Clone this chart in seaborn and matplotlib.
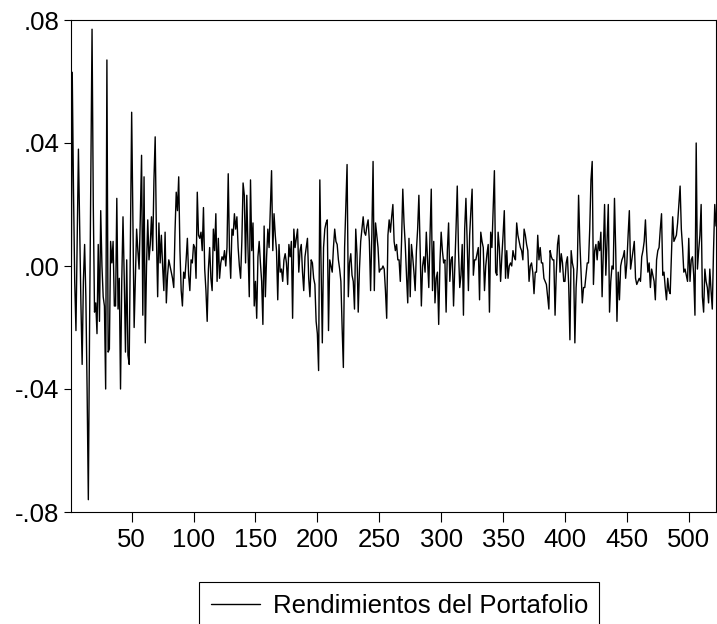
import matplotlib
matplotlib.use("Agg")
import matplotlib.pyplot as plt
import pandas as pd
import seaborn as sns

# Rendimientos diarios (orden de observacion 1..522)
rendimientos = [
    -0.024, 0.063, 0.025, -0.005, -0.021, 0.008, 0.038, 0.012, -0.012, -0.032,
    -0.005, 0.007, -0.010, -0.040, -0.076, -0.020, 0.030, 0.077, 0.020, -0.015,
    -0.012, -0.022, 0.007, -0.018, 0.018, 0.000, -0.010, -0.013, -0.040, 0.067,
    -0.028, -0.027, 0.008, 0.001, 0.008, -0.013, -0.013, 0.022, -0.014, -0.004,
    -0.040, -0.005, 0.016, -0.004, -0.028, 0.002, -0.029, -0.032, 0.010, 0.050,
    0.015, -0.020, -0.004, 0.012, 0.005, -0.001, 0.016, 0.036, -0.016, 0.029,
    -0.025, 0.000, 0.015, 0.002, 0.007, 0.016, 0.005, 0.028, 0.042, 0.010,
    -0.010, 0.014, 0.001, 0.010, 0.000, -0.008, 0.011, -0.012, -0.003, 0.002,
    0.000, -0.002, -0.004, -0.007, 0.011, 0.024, 0.018, 0.029, 0.005, -0.008,
    -0.013, -0.002, -0.004, 0.002, 0.009, -0.003, -0.008, 0.002, 0.001, 0.007,
    0.006, -0.004, 0.024, 0.010, 0.009, 0.011, 0.005, 0.019, -0.001, -0.008,
    -0.018, -0.001, 0.006, -0.004, -0.008, 0.012, 0.005, 0.017, -0.005, 0.009,
    -0.004, 0.001, 0.003, 0.002, 0.005, 0.000, 0.006, 0.030, 0.005, -0.004,
    0.012, 0.010, 0.017, 0.012, 0.016, 0.006, 0.000, -0.004, 0.008, 0.027,
    0.023, 0.001, 0.023, 0.005, -0.010, 0.028, 0.005, 0.014, -0.013, -0.005,
    -0.017, 0.003, 0.008, 0.001, -0.005, -0.019, 0.013, -0.010, 0.003, 0.012,
    0.006, 0.018, 0.031, 0.005, 0.017, 0.010, 0.005, -0.011, 0.007, -0.002,
    -0.001, -0.005, 0.002, 0.004, 0.001, -0.006, 0.007, 0.003, 0.008, -0.017,
    0.012, 0.006, 0.009, 0.012, -0.002, 0.005, 0.007, -0.002, -0.008, 0.003,
    0.006, 0.009, -0.004, -0.010, 0.002, 0.001, -0.004, -0.006, -0.018, -0.022,
    -0.034, 0.028, 0.000, -0.025, 0.006, 0.012, 0.014, 0.015, -0.021, 0.002,
    0.000, -0.002, 0.006, 0.012, 0.008, 0.007, 0.002, -0.001, -0.005, -0.020,
    -0.033, 0.006, 0.020, 0.033, -0.010, 0.001, 0.004, -0.003, -0.005, -0.014,
    0.012, 0.004, -0.015, -0.001, 0.008, 0.012, 0.016, 0.011, 0.010, 0.013,
    0.015, 0.008, -0.008, 0.010, 0.034, -0.008, 0.014, 0.010, 0.006, -0.002,
    -0.001, -0.001, 0.000, -0.001, -0.008, -0.017, 0.010, 0.015, 0.011, 0.016,
    0.020, 0.008, 0.005, 0.007, 0.002, 0.002, -0.005, 0.008, 0.025, 0.014,
    0.007, -0.003, -0.012, 0.009, -0.010, 0.007, 0.003, -0.002, -0.008, 0.005,
    0.012, 0.023, 0.006, -0.013, 0.000, 0.003, -0.002, 0.011, 0.002, -0.007,
    0.010, 0.025, -0.008, 0.008, -0.012, -0.004, -0.002, -0.019, 0.001, 0.011,
    0.005, 0.001, 0.002, -0.015, 0.005, 0.014, -0.005, 0.002, 0.003, -0.013,
    -0.001, 0.012, 0.026, 0.005, -0.007, -0.003, 0.007, -0.016, 0.012, 0.022,
    0.008, -0.008, 0.010, 0.018, 0.025, -0.003, 0.002, 0.002, 0.004, 0.006,
    -0.011, 0.011, 0.008, 0.006, -0.008, 0.000, 0.004, 0.007, -0.015, 0.011,
    0.006, 0.018, 0.031, -0.002, -0.003, 0.011, 0.006, -0.005, 0.003, 0.010,
    0.018, -0.004, 0.005, -0.004, 0.000, 0.001, 0.000, 0.005, 0.003, 0.002,
    0.014, 0.010, 0.008, 0.006, 0.005, 0.002, 0.012, 0.010, 0.007, 0.005,
    -0.005, 0.000, 0.001, -0.002, -0.009, -0.002, -0.002, 0.010, 0.002, 0.006,
    0.001, 0.001, -0.004, -0.005, -0.006, -0.010, -0.014, 0.005, 0.003, 0.002,
    0.002, -0.016, -0.002, 0.007, 0.010, -0.002, 0.004, 0.001, -0.005, -0.005,
    0.001, 0.003, -0.006, -0.024, 0.005, 0.001, -0.001, -0.025, -0.007, 0.000,
    0.023, 0.008, -0.002, -0.012, -0.007, -0.007, -0.003, 0.001, 0.001, 0.012,
    0.028, 0.034, -0.006, 0.005, 0.007, 0.002, 0.008, 0.005, 0.011, -0.010,
    0.005, 0.020, -0.003, 0.008, 0.020, -0.015, -0.005, 0.000, -0.001, 0.022,
    0.005, -0.018, -0.002, -0.011, 0.000, 0.002, 0.003, 0.005, -0.004, 0.001,
    0.010, 0.018, -0.001, 0.002, 0.005, 0.008, -0.004, -0.006, -0.005, -0.004,
    -0.005, 0.003, 0.005, 0.008, 0.015, 0.005, -0.002, 0.001, -0.007, -0.001,
    -0.003, -0.005, -0.011, 0.002, 0.005, 0.006, 0.012, 0.017, -0.003, -0.002,
    -0.007, -0.011, -0.004, -0.008, -0.009, 0.003, 0.016, 0.008, 0.009, 0.010,
    0.014, 0.020, 0.026, 0.012, 0.006, -0.002, -0.001, -0.003, -0.005, 0.009,
    -0.005, 0.002, 0.003, -0.003, -0.016, 0.040, -0.001, 0.005, 0.010, 0.020,
    -0.010, -0.015, -0.001, -0.005, -0.007, -0.012, -0.001, -0.008, -0.014, 0.005,
    0.020, 0.013,
]
observaciones = list(range(1, len(rendimientos) + 1))

serie_nombre = "Rendimientos del Portafolio"
ytick_vals = [-0.08, -0.04, 0.0, 0.04, 0.08]
ytick_labels = ["-.08", "-.04", ".00", ".04", ".08"]
xtick_vals = [50, 100, 150, 200, 250, 300, 350, 400, 450, 500]
xtick_labels = ["50", "100", "150", "200", "250", "300", "350", "400", "450", "500"]

sns.set_style("ticks")
plt.rcParams["font.family"] = ["Liberation Sans", "DejaVu Sans"]

W, H = 717, 624
fig = plt.figure(figsize=(W / 100, H / 100), dpi=100)
ax = fig.add_axes([71 / W, 1 - 512 / H, (716 - 71) / W, (512 - 20) / H])

df = pd.DataFrame({"obs": observaciones, "ret": rendimientos})
sns.lineplot(data=df, x="obs", y="ret", color="black", linewidth=1.0,
             ax=ax, label=serie_nombre, legend=False)

ax.set_xlim(observaciones[0], observaciones[-1])
ax.set_ylim(ytick_vals[0], ytick_vals[-1])
ax.set_xticks(xtick_vals, xtick_labels)
ax.set_yticks(ytick_vals, ytick_labels)
ax.set_xlabel("")
ax.set_ylabel("")

for s in ax.spines.values():
    s.set_visible(True)
    s.set_color("black")
    s.set_linewidth(0.8)

ax.tick_params(axis="x", direction="out", length=7, width=0.8, pad=4.5,
               labelsize=18.5, colors="black")
ax.tick_params(axis="y", direction="out", length=5, width=0.8, pad=3.2,
               labelsize=18.5, colors="black")

handles, labels = ax.get_legend_handles_labels()
leg = fig.legend(handles, labels, loc="upper center",
                 bbox_to_anchor=(0.557, 1 - 582 / H), frameon=True,
                 fancybox=False, edgecolor="black", framealpha=1,
                 fontsize=18.5, borderpad=0.45, borderaxespad=0,
                 handlelength=1.9, handletextpad=0.5, labelcolor="black")
leg.get_frame().set_linewidth(0.8)

fig.savefig("out.png", dpi=100)
